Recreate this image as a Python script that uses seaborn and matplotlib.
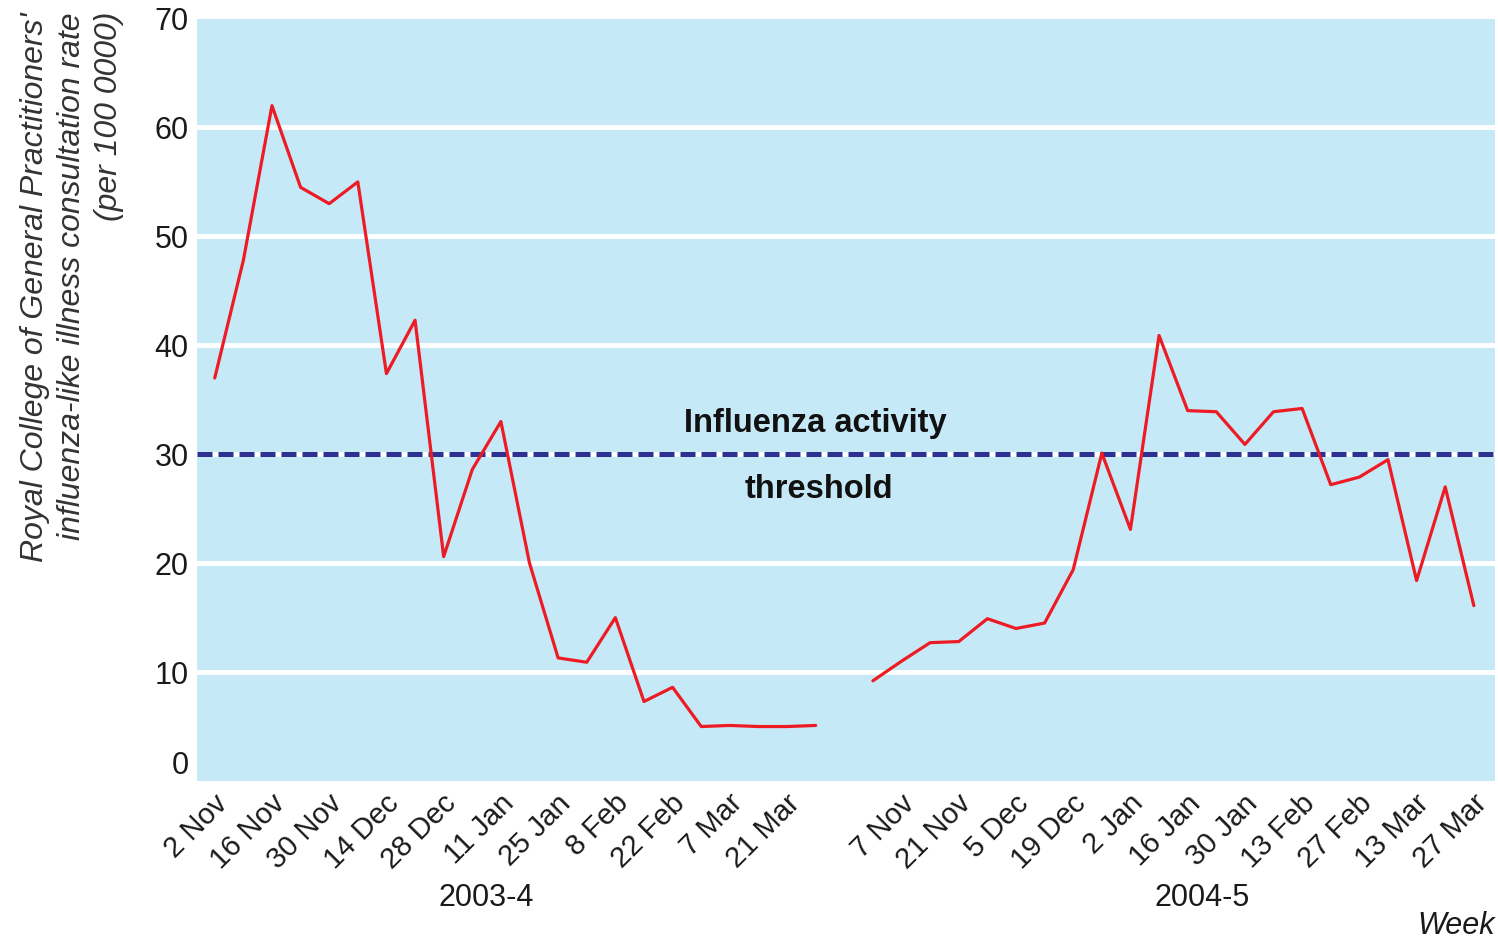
import matplotlib
matplotlib.use("Agg")
import matplotlib.pyplot as plt
import matplotlib.transforms as mtransforms
from matplotlib import font_manager
import numpy as np
import pandas as pd
import seaborn as sns

# ---------------------------------------------------------------------------
# DATA  (RCGP influenza-like illness consultation rate)
# ---------------------------------------------------------------------------
# week slot on the shared axis: tick 0 = "2 Nov" (2003), tick 24 = "7 Nov" (2004)
WEEK_0304 = np.arange(22) - 0.5
RATE_0304 = [37.0, 47.8, 62.0, 54.5, 53.0, 55.0, 37.4, 42.3, 20.6, 28.6, 33.0,
             20.0, 11.3, 10.9, 15.0, 7.3, 8.6, 5.0, 5.1, 5.0, 5.0, 5.1]

WEEK_0405 = np.arange(22) + 22.5
RATE_0405 = [9.2, 11.0, 12.7, 12.8, 14.9, 14.0, 14.5, 19.4, 30.1, 23.1, 40.9,
             34.0, 33.9, 30.9, 33.9, 34.2, 27.2, 27.9, 29.5, 18.4, 27.0, 16.1]

LABELS_0304 = ["2 Nov", "16 Nov", "30 Nov", "14 Dec", "28 Dec", "11 Jan",
               "25 Jan", "8 Feb", "22 Feb", "7 Mar", "21 Mar"]
LABELS_0405 = ["7 Nov", "21 Nov", "5 Dec", "19 Dec", "2 Jan", "16 Jan",
               "30 Jan", "13 Feb", "27 Feb", "13 Mar", "27 Mar"]
SEASONS = ["2003-4", "2004-5"]
THRESHOLD = 30

BG = "#c6e9f8"
RED = "#ed1c24"
NAVY = "#2e3192"

# ---------------------------------------------------------------------------
# FONT
# ---------------------------------------------------------------------------
def pick_font(names):
    for name in names:
        try:
            font_manager.findfont(name, fallback_to_default=False)
            return name
        except Exception:
            pass
    return "DejaVu Sans"

FONT = pick_font(["Liberation Sans Narrow", "Liberation Sans", "Noto Sans"])

sns.set_style("white")
plt.rcParams["font.family"] = [FONT, "DejaVu Sans"]

df = pd.concat([
    pd.DataFrame({"week": WEEK_0304, "rate": RATE_0304, "season": SEASONS[0]}),
    pd.DataFrame({"week": WEEK_0405, "rate": RATE_0405, "season": SEASONS[1]}),
], ignore_index=True)

# ---------------------------------------------------------------------------
# PLOT
# ---------------------------------------------------------------------------
fig = plt.figure(figsize=(14.98, 9.43), dpi=100)
ax = fig.add_axes([197 / 1498, 1 - 781 / 943, 1298 / 1498, 762.5 / 943])
ax.set_facecolor(BG)

for v in range(10, 70, 10):
    ax.axhline(v, color="white", lw=3.5, zorder=1)
ax.axhline(THRESHOLD, color=NAVY, lw=3.6, dashes=(3.0, 1.2), zorder=2)

sns.lineplot(data=df, x="week", y="rate", hue="season",
             palette=[RED, RED], legend=False, lw=2.3,
             solid_joinstyle="round", solid_capstyle="round",
             zorder=3, ax=ax)

ax.set_xlim(-1.12, 44.24)
ax.set_ylim(0, 70)
for s in ax.spines.values():
    s.set_visible(False)

# y axis
ax.set_yticks(range(0, 80, 10))
ax.tick_params(axis="y", length=0, labelsize=22, pad=6, labelcolor="#1a1a1a")
ylabs = ax.get_yticklabels()
ylabs[0].set_va("bottom")

# x axis: a tick every week, label every fortnight
ticks = list(range(45))
labels = [""] * 45
for i, lab in enumerate(LABELS_0304):
    labels[2 * i] = lab
for i, lab in enumerate(LABELS_0405):
    labels[24 + 2 * i] = lab
ax.set_xticks(ticks)
ax.set_xticklabels(labels)
ax.tick_params(axis="x", direction="in", length=6.5, width=3.6,
               color="white", labelsize=21, pad=13, labelcolor="#1a1a1a")
shift = mtransforms.ScaledTranslation(-0.06, 0, fig.dpi_scale_trans)
for lab in ax.get_xticklabels():
    lab.set_rotation(45)
    lab.set_ha("right")
    lab.set_va("center")
    lab.set_rotation_mode("anchor")
    lab.set_transform(lab.get_transform() + shift)

ax.set_xlabel("")
ax.set_ylabel("")
fig.text(72 / 1498, 1 - 12 / 943,
         "Royal College of General Practitioners'\n"
         "influenza-like illness consultation rate\n"
         "(per 100 0000)",
         rotation=90, ha="center", va="top", multialignment="right",
         fontsize=23, style="italic", color="#333333", linespacing=1.3)

# season labels and axis word
trans = ax.get_xaxis_transform()
ax.text(9, -0.153, SEASONS[0], transform=trans, ha="center", va="center",
        fontsize=22, color="#1a1a1a")
ax.text(34, -0.153, SEASONS[1], transform=trans, ha="center", va="center",
        fontsize=22, color="#1a1a1a")
ax.text(1.0, -0.19, "Week", transform=ax.transAxes, ha="right", va="center",
        fontsize=22, style="italic", color="#1a1a1a")

# threshold annotation
ax.text(20.5, THRESHOLD + 2.8, "Influenza activity", ha="center",
        va="center", fontsize=23.5, fontweight="bold", color="#111111",
        zorder=4)
ax.text(20.6, THRESHOLD - 3.2, "threshold", ha="center",
        va="center", fontsize=23.5, fontweight="bold", color="#111111",
        zorder=4)

fig.savefig("out.png", dpi=100)
